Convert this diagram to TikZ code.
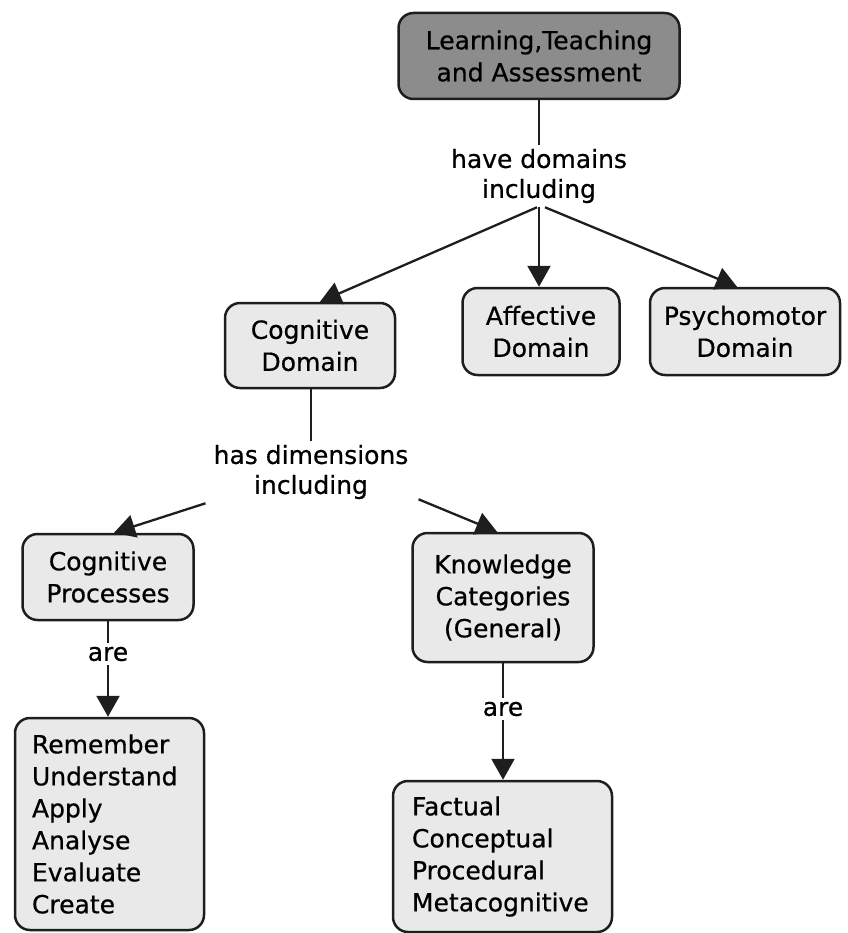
\documentclass[tikz,border=0pt]{standalone}
\usepackage{fontspec}
\setmainfont{DejaVu Sans}[FakeBold=0.6]
\usepackage{tikz}
\usetikzlibrary{arrows.meta, positioning, calc}
\definecolor{grisito}{RGB}{233,233,233}
\definecolor{grisote}{RGB}{140,140,140}
\definecolor{bordecito}{RGB}{30,30,30}
\tikzset{>={Triangle[length=21pt,width=23pt]}}
\tikzset{
  concepto/.style={draw=bordecito, line width=2.5pt, rounded corners=15pt, fill=grisito, align=center, font=\fontsize{25}{32}\selectfont, inner sep=0pt},
  lista/.style={concepto, align=left, inner xsep=17pt},
  enlace/.style={align=center, font=\fontsize{25}{30}\selectfont, inner sep=4pt, fill=white},
  flecha/.style={line width=2.3pt, draw=bordecito}
}

\begin{document}
\begin{tikzpicture}[x=1pt, y=-1pt]
        \useasboundingbox (0,0) rectangle (847,933);

        % Top concept
        \node[concepto, fill=grisote, minimum width=281pt, minimum height=86pt] (lta) at (539,56) {Learning,Teaching\\and Assessment};
        \node[enlace] (dominios) at (539,176) {have domains\\including};

        % Domains
        \node[concepto, minimum width=170pt, minimum height=85pt] (cogd) at (310,345.5) {Cognitive\\Domain};
        \node[concepto, minimum width=157pt, minimum height=87pt] (aff) at (541,331.5) {Affective\\Domain};
        \node[concepto, minimum width=190pt, minimum height=87pt] (psy) at (745,331.5) {Psychomotor\\Domain};

        % Dimensions of the cognitive domain
        \node[enlace] (dimensiones) at (311,472) {has dimensions\\including};
        \node[concepto, minimum width=171pt, minimum height=86pt] (cogp) at (108,577) {Cognitive\\Processes};
        \node[concepto, minimum width=181pt, minimum height=129pt] (know) at (503,597.5) {Knowledge\\Categories\\(General)};

        % Lists
        \node[enlace] (are1) at (108,654) {are};
        \node[enlace] (are2) at (503,709) {are};
        \node[lista, text width=155pt, minimum height=212pt] (rem) at (109.5,824) {Remember\\Understand\\Apply\\Analyse\\Evaluate\\Create};
        \node[lista, text width=181pt, inner xsep=19pt, minimum height=151pt] (fact) at (502.5,856.5) {Factual\\Conceptual\\Procedural\\Metacognitive};

        % Links
        \draw[flecha] (lta.south) -- (dominios.north);
        \draw[flecha,->] ([xshift=-2pt]dominios.south) -- ([xshift=10pt]cogd.north);
        \draw[flecha,->] (dominios.south) -- (aff.north -| dominios.south);
        \draw[flecha,->] ([xshift=6pt]dominios.south) -- ([xshift=-8pt]psy.north);

        \draw[flecha] (cogd.south -| dimensiones.north) -- (dimensiones.north);
        \draw[flecha,->] ([shift={(-4pt,0pt)}]dimensiones.south west) -- ([xshift=6pt]cogp.north);
        \draw[flecha,->] ([shift={(6pt,4pt)}]dimensiones.south east) -- ([xshift=-6pt]know.north);

        \draw[flecha] (cogp.south) -- (are1.north);
        \draw[flecha,->] (are1.south) -- (rem.north -| are1.south);
        \draw[flecha] (know.south) -- (are2.north);
        \draw[flecha,->] (are2.south) -- (fact.north -| are2.south);
\end{tikzpicture}
\end{document}
